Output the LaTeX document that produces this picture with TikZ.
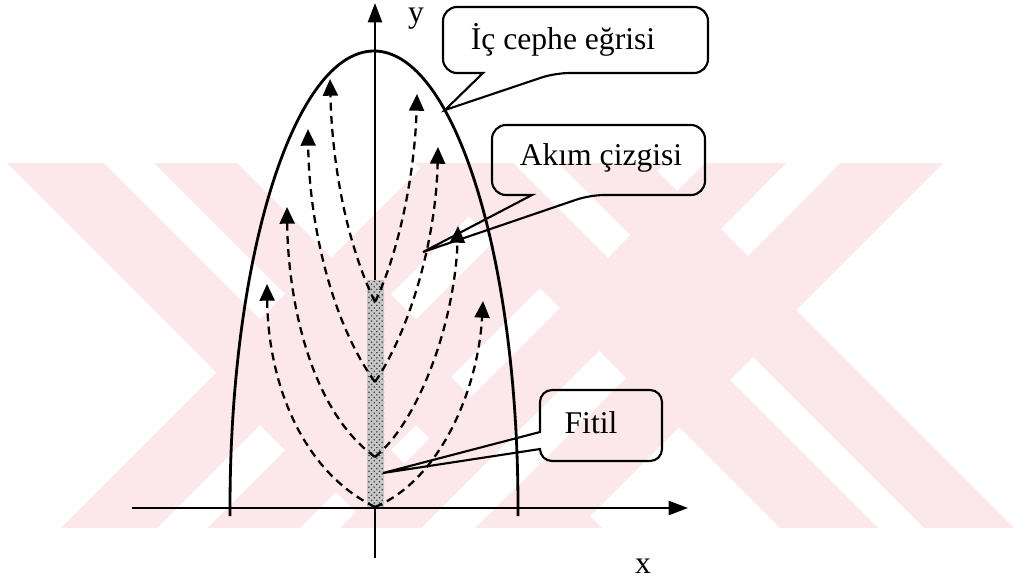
\documentclass[tikz,border=0pt]{standalone}
\usepackage{fontspec}
\setmainfont{Liberation Serif}
\usetikzlibrary{arrows.meta, patterns}

\definecolor{wmpink}{RGB}{252,231,235}

\begin{document}
\begin{tikzpicture}[x=0.02cm, y=-0.02cm,
    axis/.style={line width=1.2pt, -{Triangle[length=11pt,width=8pt]}},
    wall/.style={line width=1.6pt},
    stream/.style={line width=1.3pt, dash pattern=on 4.5pt off 3pt, -{Triangle[length=9.5pt,width=8.5pt]}},
    callout/.style={line width=1.2pt, rounded corners=8pt},
    lbl/.style={font=\fontsize{18}{21}\selectfont, inner sep=0pt},
  ]
  \fill[white] (0,0) rectangle (1013,582);
  \useasboundingbox (0,0) rectangle (1013,582);

  % watermark in the back
  \begin{scope}
    \clip (0,163) rectangle (1013,527);
    \fill[wmpink] (-56,100) -- (174,100) -- (674,600) -- (444,600) -- cycle;
    \fill[wmpink] (489,100) -- (728,100) -- (228,600) -- (-11,600) -- cycle;
    \fill[white] (41,100) -- (91,100) -- (285,294) -- (260,319) -- cycle;
    \fill[white] (391,450) -- (416,425) -- (591,600) -- (541,600) -- cycle;
    \fill[white] (260,425) -- (285,450) -- (135,600) -- (85,600) -- cycle;
    \fill[white] (391,294) -- (585,100) -- (635,100) -- (416,319) -- cycle;
    \fill[wmpink] (352,100) -- (586,100) -- (1086,600) -- (852,600) -- cycle;
    \fill[wmpink] (768,100) -- (1006,100) -- (506,600) -- (268,600) -- cycle;
    \fill[white] (450,100) -- (496,100) -- (630,235) -- (608,258) -- cycle;
    \fill[white] (730,380) -- (753,357) -- (996,600) -- (950,600) -- cycle;
    \fill[white] (599,351) -- (626,378) -- (403,600) -- (349,600) -- cycle;
    \fill[white] (721,229) -- (748,256) -- (903,100) -- (849,100) -- cycle;
  \end{scope}

  % points
  \coordinate (origin) at (375,508);
  \coordinate (xend) at (688,508);
  \coordinate (xstart) at (132,508);
  \coordinate (yend) at (375,3);
  \coordinate (ystart) at (375,558);
  \coordinate (o1) at (375,302);
  \coordinate (o2) at (375,382);
  \coordinate (o3) at (375,457);
  \coordinate (o4) at (375,507);
  \coordinate (l1) at (330,79);
  \coordinate (l2) at (308,129);
  \coordinate (l3) at (287,207);
  \coordinate (l4) at (267,284);
  \coordinate (r1) at (417,94);
  \coordinate (r2) at (438,147);
  \coordinate (r3) at (458,226);
  \coordinate (r4) at (483,301);
  \coordinate (tipcurve) at (445,110);
  \coordinate (tipstream) at (423,252);
  \coordinate (tipwick) at (383,473);

  % axes
  \draw[axis] (xstart) -- (xend);
  \draw[axis] (ystart) -- (yend);
  \node[lbl] (ylabel) at (416,19) {y};
  \node[lbl] (xlabel) at (643,566) {x};

  % inner front curve
  \draw[wall] (230,516) -- (230,508) arc[start angle=180, end angle=360, x radius=144, y radius=457] -- (518,516);

  % wick
  \fill[black!22] (367,280) rectangle (384,507);
  \fill[pattern=crosshatch dots, pattern color=black!75] (367,280) rectangle (384,507);

  % stream lines
  \draw[stream] (o1) .. controls (345,240) and (332,160) .. (l1);
  \draw[stream] (o2) .. controls (330,320) and (309,220) .. (l2);
  \draw[stream] (o3) .. controls (310,410) and (288,300) .. (l3);
  \draw[stream] (o4) .. controls (300,470) and (268,380) .. (l4);
  \draw[stream] (o1) .. controls (400,250) and (415,170) .. (r1);
  \draw[stream] (o2) .. controls (410,330) and (436,240) .. (r2);
  \draw[stream] (o3) .. controls (420,420) and (455,320) .. (r3);
  \draw[stream] (o4) .. controls (440,480) and (478,390) .. (r4);

  % callouts
  \node[lbl] (curvetext) at (563,40) {İç cephe eğrisi};
  \draw[callout] (575,7) -- (708,7) -- (708,73) -- (555,73) [sharp corners] -- (tipcurve) -- (483,73) [rounded corners=8pt] -- (443,73) -- (443,7) -- cycle;

  \node[lbl] (streamtext) at (601,158) {Akım çizgisi};
  \draw[callout] (600,125) -- (705,125) -- (705,195) -- (590,195) [sharp corners] -- (tipstream) -- (532,195) [rounded corners=8pt] -- (492,195) -- (492,125) -- cycle;

  \node[lbl] (wicktext) at (591,423) {Fitil};
  \draw[callout, sharp corners] (540,432) -- (540,402) arc[start angle=180, end angle=270, radius=12] -- (650,390) arc[start angle=270, end angle=360, radius=12] -- (662,449) arc[start angle=0, end angle=90, radius=12] -- (552,461) arc[start angle=90, end angle=180, radius=12] -- (tipwick) -- cycle;
\end{tikzpicture}
\end{document}
